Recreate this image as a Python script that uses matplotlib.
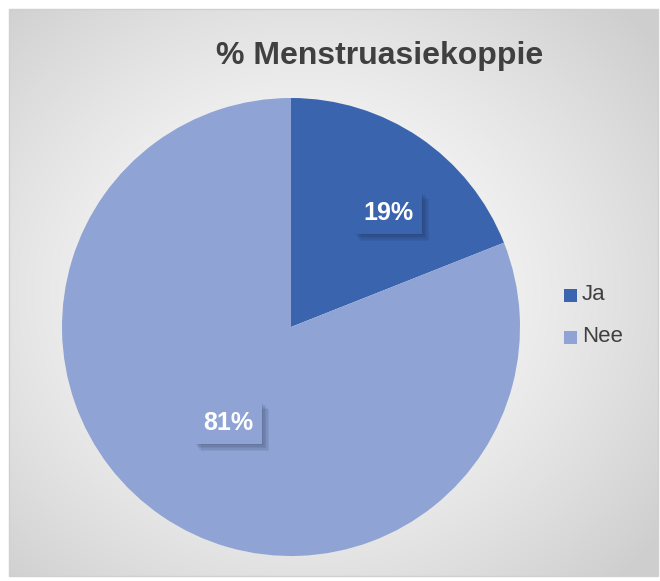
import numpy as np
import matplotlib.pyplot as plt
import matplotlib.patheffects as pe
from matplotlib.patches import Rectangle

labels = ['Ja', 'Nee']
values = [19, 81]
colors = ['#3A64AE', '#8FA3D4']

plt.rcParams['font.family'] = ['Liberation Sans', 'DejaVu Sans']

fig = plt.figure(figsize=(6.6, 5.81), dpi=100)
fig.patch.set_facecolor('white')

# background panel with radial gradient
bg = fig.add_axes([0, 0, 1, 1])
bg.set_zorder(0)
bg.axis('off')
yy, xx = np.mgrid[0:581, 0:660]
r = np.sqrt(((xx - 300) / 420.0) ** 2 + ((yy - 290) / 380.0) ** 2)
shade = np.clip(1.0 - 0.17 * r ** 1.4, 0.81, 1.0)
img = np.dstack([shade, shade, shade])
bg.imshow(img, extent=(9, 658, 576, 9), aspect='auto', zorder=0)
bg.add_patch(Rectangle((9, 9), 649, 567, fill=False, edgecolor='#D0D0D0', lw=1))
bg.set_xlim(0, 660)
bg.set_ylim(581, 0)

# pie
ax = fig.add_axes([291 / 660 - 229 / 660, 1 - 327 / 581 - 229 / 581, 458 / 660, 458 / 581])
ax.set_zorder(1)
wedges, _ = ax.pie(values, colors=colors, startangle=90, counterclock=False, radius=1,
                   wedgeprops=dict(linewidth=0))
ax.set_xlim(-1, 1)
ax.set_ylim(-1, 1)
ax.set_aspect('auto')
ax.axis('off')

# overlay for texts
fg = fig.add_axes([0, 0, 1, 1])
fg.set_zorder(2)
fg.patch.set_alpha(0)
fg.axis('off')
fg.set_xlim(0, 660)
fg.set_ylim(581, 0)

fg.text(380, 56, '% Menstruasiekoppie', ha='center', va='center',
        fontsize=23, fontweight='bold', color='#404040')

# soft drop shadow for the data label boxes
shadow = [pe.SimplePatchShadow(offset=(k, -k), shadow_rgbFace='#101830', alpha=0.07)
          for k in (1, 2, 3, 4, 5)] + [pe.Normal()]
label_pos = [(388, 213), (228, 423)]
for (px, py), v, c in zip(label_pos, values, colors):
    fg.text(px, py, f'{v}%', ha='center', va='center', fontsize=18, fontweight='bold',
            color='white', zorder=5,
            bbox=dict(boxstyle='square,pad=0.36', facecolor=c, edgecolor='none',
                      path_effects=shadow))

# legend
for i, (lab, c) in enumerate(zip(labels, colors)):
    y = 295 + 42 * i
    fg.add_patch(Rectangle((564, y - 6.5), 13, 13, facecolor=c, edgecolor='none', zorder=5))
    fg.text(582, y, lab, ha='left', va='center', fontsize=16, color='#404040', zorder=5)

fig.savefig('out.png', dpi=100)
